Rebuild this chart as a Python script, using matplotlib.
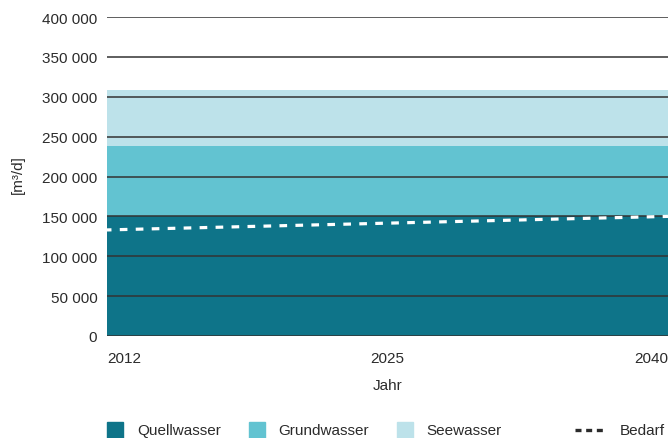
import matplotlib
matplotlib.use("Agg")
import matplotlib.pyplot as plt
from matplotlib.patches import Rectangle
from matplotlib.lines import Line2D
import numpy as np

plt.rcParams['font.family'] = ['Liberation Sans', 'DejaVu Sans']

years = ['2012', '2025', '2040']
quellwasser = [150000, 150000, 150000]
grundwasser = [88000, 88000, 88000]
seewasser = [71000, 71000, 71000]
bedarf = [133000, 141500, 150000]

c_quell = '#0e7489'
c_grund = '#62c3d1'
c_see = '#bde2ea'
txt = '#2b2b2b'

W, H = 668, 439
fig = plt.figure(figsize=(W / 100, H / 100), dpi=100)
ax = fig.add_axes([107 / W, 1 - 337 / H, 1 - 107 / W, (337 - 18) / H])

x = np.arange(len(years))
q = np.array(quellwasser)
g = q + np.array(grundwasser)
s = g + np.array(seewasser)
ax.fill_between(x, 0, q, color=c_quell, lw=0)
ax.fill_between(x, q, g, color=c_grund, lw=0)
ax.fill_between(x, g, s, color=c_see, lw=0)
ax.plot(x, bedarf, color='white', lw=2.3, linestyle=(1, (2.4, 2.6)), zorder=3)

ax.set_xlim(0, 2)
ax.set_ylim(0, 400000)
ax.set_yticks(np.arange(0, 400001, 50000))
ax.set_yticklabels(['0' if v == 0 else f'{v // 1000} 000' for v in range(0, 400001, 50000)])
ax.set_xticks(x)
ax.set_xticklabels(years)
for lab, ha in zip(ax.get_xticklabels(), ['left', 'center', 'right']):
    lab.set_ha(ha)
ax.tick_params(axis='both', length=0, labelsize=11, colors=txt)
ax.tick_params(axis='y', pad=7)
ax.tick_params(axis='x', pad=11)
ax.set_axisbelow(False)
ax.grid(axis='y', color='#333333', lw=1.1)
ax.grid(axis='x', visible=False)
for sp in ax.spines.values():
    sp.set_visible(False)

ax.set_xlabel('Jahr', fontsize=11, color=txt, labelpad=9)
fig.text(18 / W, 1 - 175 / H, '[m³/d]', rotation=90, ha='center', va='center',
         fontsize=11, color=txt)

# legend along the bottom
ly = 1 - 439 / H
items = [(107, 137, 'Quellwasser', c_quell), (249, 278, 'Grundwasser', c_grund),
         (397, 426, 'Seewasser', c_see)]
for sx, tx, label, col in items:
    fig.patches.append(Rectangle((sx / W, ly), 16 / W, 16 / H, color=col,
                                 transform=fig.transFigure, figure=fig))
    fig.text(tx / W, 1 - 431 / H, label, fontsize=11, color=txt, va='center')
fig.lines.append(Line2D([575 / W, 603 / W], [1 - 431 / H] * 2, color=txt, lw=2.4,
                        linestyle=(0, (1.8, 1.4)), transform=fig.transFigure, figure=fig))
fig.text(620 / W, 1 - 431 / H, 'Bedarf', fontsize=11, color=txt, va='center')

fig.savefig('out.png', dpi=100)
